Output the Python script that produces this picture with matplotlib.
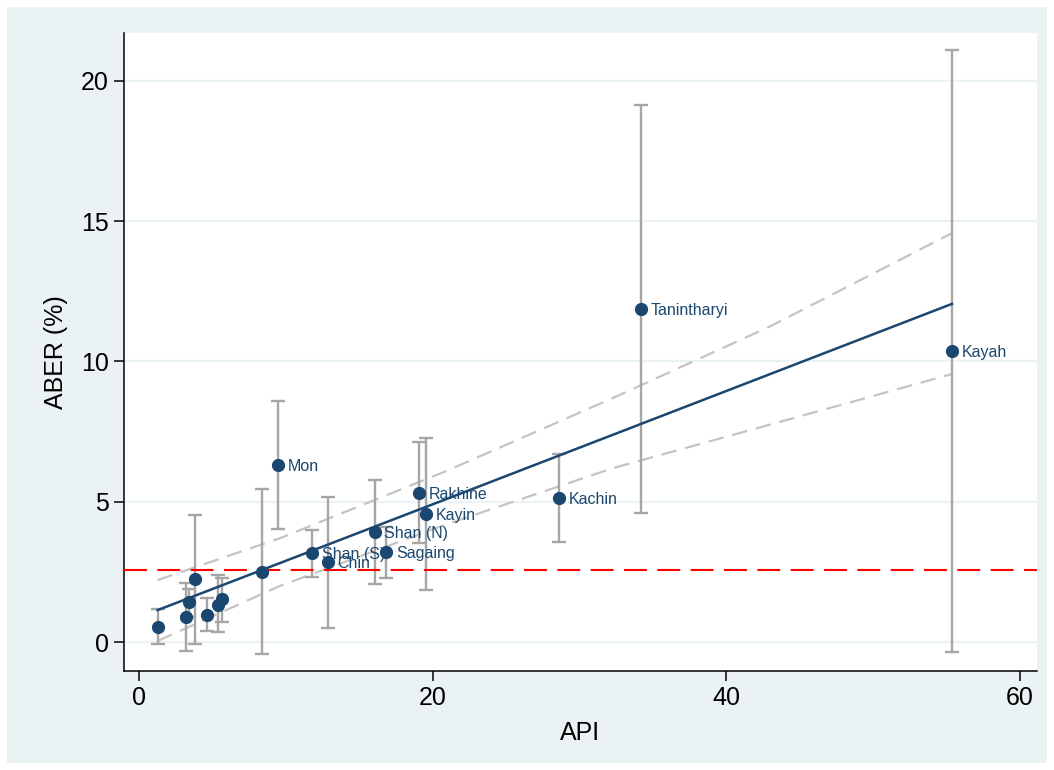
import numpy as np
import matplotlib.pyplot as plt
from matplotlib.patches import Rectangle

plt.rcParams['font.family'] = ['Liberation Sans', 'DejaVu Sans']

# region-level estimates: API, ABER (%) and its 95% CI
regions = ['', '', '', '', '', '', '', '',
           'Mon', 'Shan (S)', 'Chin', 'Shan (N)', 'Sagaing', 'Rakhine', 'Kayin',
           'Kachin', 'Tanintharyi', 'Kayah']
api = [1.27, 3.2, 3.38, 3.81, 4.65, 5.38, 5.63, 8.36,
       9.45, 11.81, 12.87, 16.05, 16.83, 19.07, 19.53, 28.59, 34.22, 55.38]
aber = [0.55, 0.88, 1.43, 2.24, 0.97, 1.31, 1.54, 2.51,
        6.31, 3.17, 2.85, 3.93, 3.21, 5.31, 4.55, 5.13, 11.87, 10.37]
aber_lo = [-0.07, -0.31, 0.90, -0.07, 0.40, 0.37, 0.72, -0.43,
           4.04, 2.33, 0.49, 2.08, 2.27, 3.52, 1.84, 3.57, 4.60, -0.36]
aber_hi = [1.17, 2.09, 1.89, 4.54, 1.56, 2.39, 2.27, 5.44,
           8.59, 3.99, 5.18, 5.76, 4.10, 7.12, 7.26, 6.69, 19.14, 21.09]

# fitted line and its confidence band
fit_x = [1.27, 20.96, 55.38]
fit_y = [1.14, 5.10, 12.05]
band_x = [1.27, 9.6, 20.96, 32.3, 43.0, 55.38]
band_hi = [2.21, 3.70, 6.10, 8.70, 11.25, 14.57]
band_lo = [0.04, 2.00, 4.20, 6.20, 7.75, 9.55]

threshold = 2.57

navy = '#1a476f'
bg = '#eaf2f3'

fig = plt.figure(figsize=(10.54, 7.70), dpi=100, facecolor='white')
fig.patches.append(Rectangle((7 / 1054, 7 / 770), 1040 / 1054, 756 / 770,
                             transform=fig.transFigure, facecolor=bg,
                             edgecolor='none', zorder=-5))
ax = fig.add_axes([124 / 1054, 1 - 671 / 770, 913 / 1054, 638 / 770])
ax.set_facecolor('white')

for v in [0, 5, 10, 15, 20]:
    ax.axhline(v, color=bg, lw=1.6, zorder=0)

ax.plot(band_x, band_hi, color='#c4c4c4', lw=1.6, ls=(0, (7, 4)), zorder=1)
ax.plot(band_x, band_lo, color='#c4c4c4', lw=1.6, ls=(0, (7, 4)), zorder=1)

aber_arr = np.array(aber)
yerr = [aber_arr - np.array(aber_lo), np.array(aber_hi) - aber_arr]
ax.errorbar(api, aber, yerr=yerr, fmt='none', ecolor='#a6a6a6', elinewidth=1.7,
            capsize=5, capthick=1.7, zorder=2)

ax.axhline(threshold, color='#ff0000', lw=1.5, ls=(0, (11, 5)), zorder=3)
ax.plot(fit_x, fit_y, color=navy, lw=1.8, zorder=4)
ax.plot(api, aber, 'o', color=navy, ms=8.5, zorder=5)

for x, y, name in zip(api, aber, regions):
    if name:
        ax.annotate(name, (x, y), xytext=(7, -1), textcoords='offset points',
                    ha='left', va='center', fontsize=11.5, color=navy, zorder=6)

ax.set_xlim(-1.02, 61.17)
ax.set_ylim(-1.03, 21.7)
ax.set_xticks([0, 20, 40, 60])
ax.set_yticks([0, 5, 10, 15, 20])
ax.spines['top'].set_visible(False)
ax.spines['right'].set_visible(False)
ax.spines['left'].set_linewidth(1.1)
ax.spines['bottom'].set_linewidth(1.1)
ax.tick_params(axis='both', labelsize=18, length=7, width=1.1, direction='out')
ax.tick_params(axis='y', pad=4)
ax.tick_params(axis='x', pad=4)
ax.set_xlabel('API', fontsize=18, labelpad=8)
ax.set_ylabel('ABER (%)', fontsize=18, labelpad=9)

fig.savefig('out.png', dpi=100, facecolor='white')
